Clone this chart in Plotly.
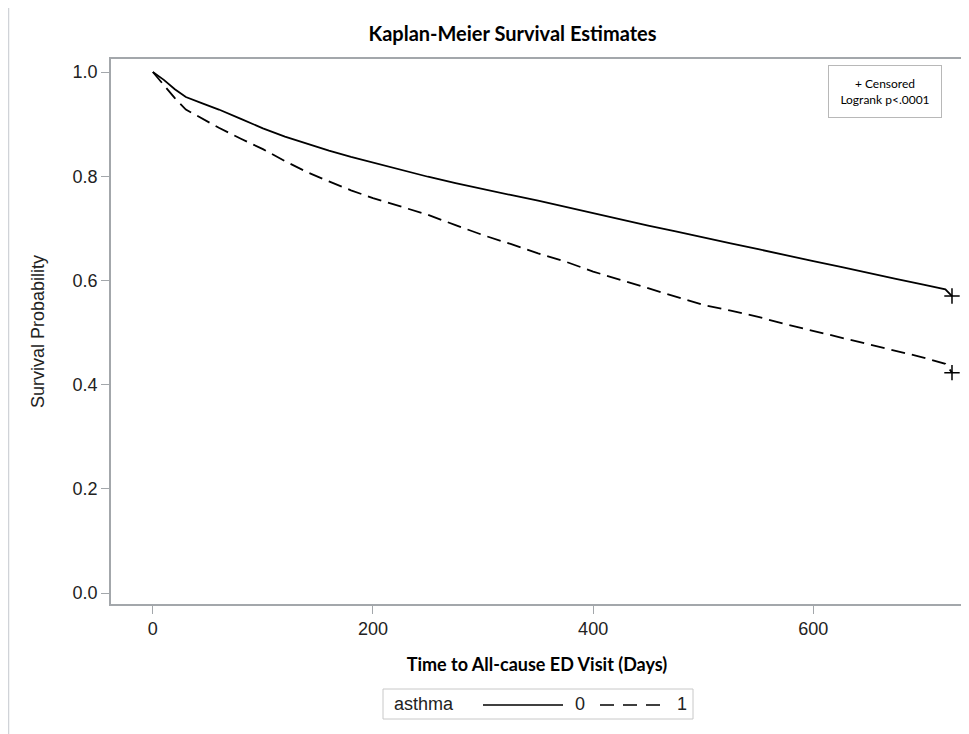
import plotly.graph_objects as go

# ---- data ----
days_0 = [0, 10, 20, 30, 45, 60, 80, 100, 120, 140, 160, 180, 200, 225, 250, 275,
          300, 325, 350, 375, 400, 425, 450, 475, 500, 525, 550, 575, 600, 625,
          650, 675, 700, 720, 726]
surv_0 = [1.0, 0.985, 0.967, 0.952, 0.940, 0.928, 0.910, 0.892, 0.876, 0.862, 0.849,
          0.837, 0.826, 0.812, 0.799, 0.787, 0.775, 0.764, 0.753, 0.741, 0.728, 0.717,
          0.705, 0.694, 0.682, 0.671, 0.660, 0.648, 0.637, 0.626, 0.614, 0.603, 0.592,
          0.583, 0.570]

days_1 = [0, 10, 20, 30, 45, 60, 80, 100, 120, 140, 160, 180, 200, 225, 250, 275,
          300, 325, 350, 375, 400, 425, 450, 475, 500, 525, 550, 575, 600, 625,
          650, 675, 700, 720, 726]
surv_1 = [1.0, 0.975, 0.950, 0.928, 0.910, 0.893, 0.872, 0.852, 0.829, 0.808, 0.790,
          0.773, 0.758, 0.742, 0.726, 0.706, 0.687, 0.670, 0.652, 0.636, 0.617, 0.601,
          0.585, 0.569, 0.553, 0.542, 0.530, 0.516, 0.503, 0.490, 0.478, 0.465, 0.452,
          0.440, 0.423]

censor_t = [726, 726]
censor_s = [0.570, 0.423]

legend_title = "asthma"
groups = ["0", "1"]
x_ticks = [0, 200, 400, 600]
y_ticks = [0.0, 0.2, 0.4, 0.6, 0.8, 1.0]

# ---- layout geometry (figure pixels; page has an 8px body margin) ----
W, H = 961, 726
L, R, T, B = 103, 955, 51, 596


def px(xp):
    return (xp - L) / (R - L)


def py(yp):
    return (B - yp) / (B - T)


fig = go.Figure()
fig.add_trace(go.Scatter(x=days_0, y=surv_0, mode="lines", name=groups[0], showlegend=False,
                         line=dict(color="black", width=1.8)))
fig.add_trace(go.Scatter(x=days_1, y=surv_1, mode="lines", name=groups[1], showlegend=False,
                         line=dict(color="black", width=1.8, dash="14px,7px")))
fig.add_trace(go.Scatter(x=censor_t, y=censor_s, mode="markers", showlegend=False,
                         name="Censored", cliponaxis=False,
                         marker=dict(symbol="cross-thin", size=11,
                                     line=dict(color="black", width=1.5))))

axis_common = dict(showline=True, mirror=True, linecolor="#a3a7ab", linewidth=1.6,
                   showgrid=False, zeroline=False, ticks="outside", ticklen=8,
                   tickcolor="#a3a7ab", tickwidth=1, automargin=False,
                   tickfont=dict(family="Liberation Sans", size=18, color="#222"))

fig.update_layout(
    width=W, height=H,
    margin=dict(l=L, r=W - R, t=T, b=H - B, pad=0),
    paper_bgcolor="white", plot_bgcolor="white",
    title=dict(text="<b>Kaplan-Meier Survival Estimates</b>", x=504.5 / W, xref="container",
               xanchor="center", y=1 - 26 / H, yanchor="middle",
               font=dict(family="Lato", size=20, color="black")),
    xaxis=dict(axis_common, range=[-38, 736], tickvals=x_ticks,
               title=dict(text="<b>Time to All-cause ED Visit (Days)</b>", standoff=20,
                          font=dict(family="Lato", size=18, color="black"))),
    yaxis=dict(axis_common, range=[-0.021, 1.025], tickvals=y_ticks, tickformat=".1f",
               title=dict(text="Survival Probability", standoff=23,
                          font=dict(family="Liberation Sans", size=18, color="#222"))),
    showlegend=False,
)

# page frame (left edge)
fig.add_shape(type="line", xref="paper", yref="paper", x0=px(0.5), x1=px(0.5), y0=py(0), y1=py(H),
              line=dict(color="#d0d3d8", width=1.5))

# inset box
fig.add_annotation(xref="paper", yref="paper", x=px(877), y=py(84), xanchor="center",
                   yanchor="middle", showarrow=False, align="center",
                   text="+ Censored<br>Logrank p<.0001",
                   font=dict(family="Lato", size=12, color="black"),
                   bordercolor="#b8b8b8", borderwidth=1, borderpad=10, bgcolor="white",
                   width=92)

# bottom legend (box, title, line samples, labels)
lg_font = dict(family="Liberation Sans", size=18, color="#222")
fig.add_shape(type="rect", xref="paper", yref="paper", x0=px(375), x1=px(685),
              y0=py(711), y1=py(681), line=dict(color="#c8c8c8", width=1), fillcolor="white")
fig.add_annotation(xref="paper", yref="paper", x=px(384), y=py(696), xanchor="left",
                   yanchor="middle", showarrow=False, text=legend_title, font=lg_font)
fig.add_shape(type="line", xref="paper", yref="paper", x0=px(475), x1=px(555),
              y0=py(697), y1=py(697), line=dict(color="black", width=1.5))
fig.add_annotation(xref="paper", yref="paper", x=px(565), y=py(696), xanchor="left",
                   yanchor="middle", showarrow=False, text=groups[0], font=lg_font)
fig.add_shape(type="line", xref="paper", yref="paper", x0=px(592), x1=px(652),
              y0=py(697), y1=py(697), line=dict(color="black", width=1.5, dash="14px,9px"))
fig.add_annotation(xref="paper", yref="paper", x=px(667), y=py(696), xanchor="left",
                   yanchor="middle", showarrow=False, text=groups[1], font=lg_font)

fig.write_html("out.html")
